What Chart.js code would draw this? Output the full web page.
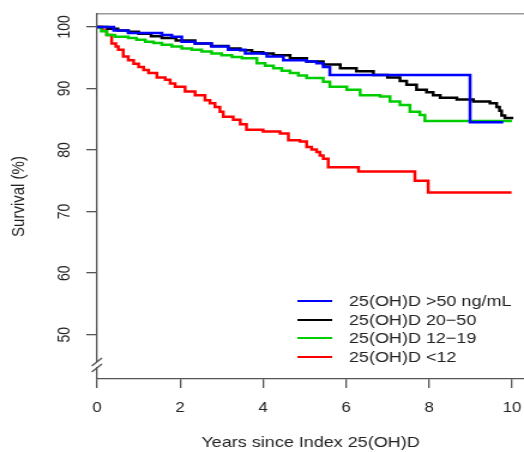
<!DOCTYPE html>
<html>
<head>
<meta charset="utf-8">
<script src="https://cdn.jsdelivr.net/npm/chart.js@4"></script>
<style>
  html, body { margin: 0; padding: 0; background: #fff; overflow: hidden; }
  #wrap { width: 437px; height: 452px; transform: scaleX(1.1991); transform-origin: 0 0; }
</style>
</head>
<body>
<div id="wrap"><canvas id="kmChart" width="437" height="452"></canvas></div>
<script>
// Kaplan-Meier survival by 25(OH)D group (years, survival %)
const labels = ['25(OH)D >50 ng/mL', '25(OH)D 20\u221250', '25(OH)D 12\u221219', '25(OH)D <12'];

const blueYears = [0, 0.4, 0.75, 1.56, 1.8, 2.04, 2.36, 2.76, 3.16, 3.57, 4.09, 4.49, 5.05, 5.29, 5.45, 5.61, 8.99, 9.79];
const blueSurv  = [100, 99.4, 99.0, 98.7, 98.4, 97.6, 97.3, 96.8, 96.3, 95.7, 95.2, 94.6, 94.4, 94.1, 93.5, 92.2, 84.5, 84.5];

const blackYears = [0, 0.25, 0.5, 0.75, 1.0, 1.3, 1.56, 1.9, 2.36, 2.75, 3.16, 3.45, 3.73, 4.0, 4.25, 4.65, 5.05, 5.45, 5.86, 6.25, 6.66, 7.0, 7.3, 7.46, 7.7, 7.94, 8.1, 8.27, 8.67, 9.07, 9.47, 9.63, 9.7, 9.75, 9.83, 10.03];
const blackSurv  = [100, 99.7, 99.4, 99.2, 98.9, 98.5, 98.2, 97.8, 97.3, 96.9, 96.5, 96.2, 95.9, 95.7, 95.4, 94.9, 94.4, 93.9, 93.3, 92.8, 92.2, 91.8, 91.2, 90.6, 89.8, 89.4, 88.9, 88.5, 88.2, 87.9, 87.6, 87.0, 86.4, 85.6, 85.2, 85.2];

const greenYears = [0, 0.1, 0.23, 0.43, 0.75, 0.95, 1.16, 1.36, 1.56, 1.8, 2.04, 2.28, 2.52, 2.76, 3.0, 3.25, 3.49, 3.85, 4.05, 4.25, 4.45, 4.65, 4.85, 5.05, 5.45, 5.61, 6.02, 6.34, 6.82, 7.06, 7.3, 7.54, 7.78, 7.9, 10.0];
const greenSurv  = [100, 99.3, 98.7, 98.4, 98.2, 97.9, 97.6, 97.4, 97.1, 96.8, 96.5, 96.3, 96.0, 95.7, 95.4, 95.1, 94.9, 94.1, 93.7, 93.3, 92.9, 92.5, 92.1, 91.7, 91.1, 90.3, 89.8, 88.9, 88.7, 87.9, 87.3, 86.2, 85.7, 84.7, 84.7];

const redYears = [0, 0.12, 0.23, 0.35, 0.45, 0.51, 0.63, 0.75, 0.88, 1.0, 1.12, 1.24, 1.44, 1.64, 1.76, 1.88, 2.12, 2.36, 2.6, 2.72, 2.84, 2.96, 3.04, 3.28, 3.45, 3.6, 4.0, 4.41, 4.61, 4.89, 5.05, 5.17, 5.29, 5.37, 5.45, 5.57, 6.3, 7.66, 7.98, 9.99];
const redSurv  = [100, 99.4, 98.7, 97.3, 96.8, 96.3, 95.2, 94.6, 94.0, 93.5, 93.0, 92.5, 91.8, 91.4, 90.8, 90.3, 89.5, 88.9, 88.1, 87.6, 87.0, 86.2, 85.4, 84.9, 84.2, 83.3, 83.0, 82.7, 81.6, 81.4, 80.5, 80.1, 79.7, 79.1, 78.6, 77.2, 76.5, 75.0, 73.1, 73.1];

const colors = ['#0000ff', '#000000', '#00cd00', '#ff0000'];
const xTicks = [0, 2, 4, 6, 8, 10];
const yTicks = [50, 60, 70, 80, 90, 100];

const toPoints = (xs, ys) => xs.map((x, i) => ({ x: x, y: ys[i] }));
const series = [
    toPoints(blueYears, blueSurv),
    toPoints(blackYears, blackSurv),
    toPoints(greenYears, greenSurv),
    toPoints(redYears, redSurv)
];

const FONT = '"Liberation Sans", Arial, sans-serif';
const TEXT = '#222';
const AXIS = '#555';

// rotated y labels, axis break and the legend box
const overlay = {
    id: 'overlay',
    afterDraw(chart) {
        const ctx = chart.ctx;
        const yScale = chart.scales.y;
        ctx.save();

        ctx.font = '14px ' + FONT;
        ctx.fillStyle = TEXT;
        ctx.textAlign = 'center';
        ctx.textBaseline = 'middle';
        yScale.ticks.forEach(t => {
            ctx.save();
            ctx.translate(54, yScale.getPixelForValue(t.value));
            ctx.rotate(-Math.PI / 2);
            ctx.fillText(String(t.value), 0, 0);
            ctx.restore();
        });

        // axis break "//"
        const left = chart.chartArea.left;
        ctx.fillStyle = '#fff';
        ctx.fillRect(left - 2, 362, 4, 5);
        ctx.strokeStyle = AXIS;
        ctx.lineWidth = 1.3;
        ctx.beginPath();
        ctx.moveTo(left - 4.5, 366); ctx.lineTo(left + 4, 358);
        ctx.moveTo(left - 4.5, 372); ctx.lineTo(left + 4, 364);
        ctx.stroke();

        // legend
        const rows = [301, 320, 338, 357];
        ctx.font = '15px ' + FONT;
        ctx.textAlign = 'left';
        chart.data.datasets.forEach((ds, i) => {
            ctx.strokeStyle = ds.borderColor;
            ctx.lineWidth = 2;
            ctx.beginPath();
            ctx.moveTo(248, rows[i]);
            ctx.lineTo(277, rows[i]);
            ctx.stroke();
            ctx.fillStyle = TEXT;
            ctx.fillText(ds.label, 291, rows[i] + 1);
        });
        ctx.restore();
    }
};

new Chart(document.getElementById('kmChart').getContext('2d'), {
    type: 'line',
    data: {
        datasets: series.map((pts, i) => ({
            label: labels[i],
            data: pts,
            borderColor: colors[i],
            backgroundColor: colors[i],
            borderWidth: 2.5,
            pointRadius: 0,
            stepped: 'before',
            fill: false
        }))
    },
    options: {
        responsive: false,
        animation: false,
        layout: { padding: 0 },
        plugins: {
            legend: { display: false },
            tooltip: { enabled: false }
        },
        scales: {
            x: {
                type: 'linear',
                position: 'bottom',
                min: 0,
                max: 10.29,
                afterBuildTicks: s => { s.ticks = xTicks.map(v => ({ value: v })); },
                afterFit: s => { s.height = 73; s.paddingLeft = 0; s.paddingRight = 0; },
                grid: { drawOnChartArea: false, drawTicks: true, tickLength: 9, color: AXIS, lineWidth: 1.3 },
                border: { display: true, color: AXIS, width: 1.3 },
                ticks: { color: TEXT, font: { size: 14, family: FONT }, padding: 12, maxRotation: 0 },
                title: { display: true, text: 'Years since Index 25(OH)D', color: TEXT, font: { size: 15, family: FONT }, padding: { top: 0, bottom: 0 } }
            },
            x2: {
                type: 'linear',
                position: 'top',
                afterFit: s => { s.height = 14; s.paddingLeft = 0; s.paddingRight = 0; },
                grid: { display: false, drawTicks: false },
                border: { display: true, color: '#999', width: 1.5 },
                ticks: { display: false }
            },
            y: {
                type: 'linear',
                min: 42.8,
                max: 102.1,
                afterBuildTicks: s => { s.ticks = yTicks.map(v => ({ value: v })); },
                afterFit: s => { s.width = 81; s.paddingTop = 0; s.paddingBottom = 0; },
                grid: { drawOnChartArea: false, drawTicks: true, tickLength: 9, color: AXIS, lineWidth: 1.3 },
                border: { display: true, color: AXIS, width: 1.3 },
                ticks: { display: false },
                title: { display: true, text: 'Survival (%)', color: TEXT, font: { size: 15, family: FONT }, padding: { top: 7, bottom: 0 } }
            }
        }
    },
    plugins: [overlay]
});
</script>
</body>
</html>
